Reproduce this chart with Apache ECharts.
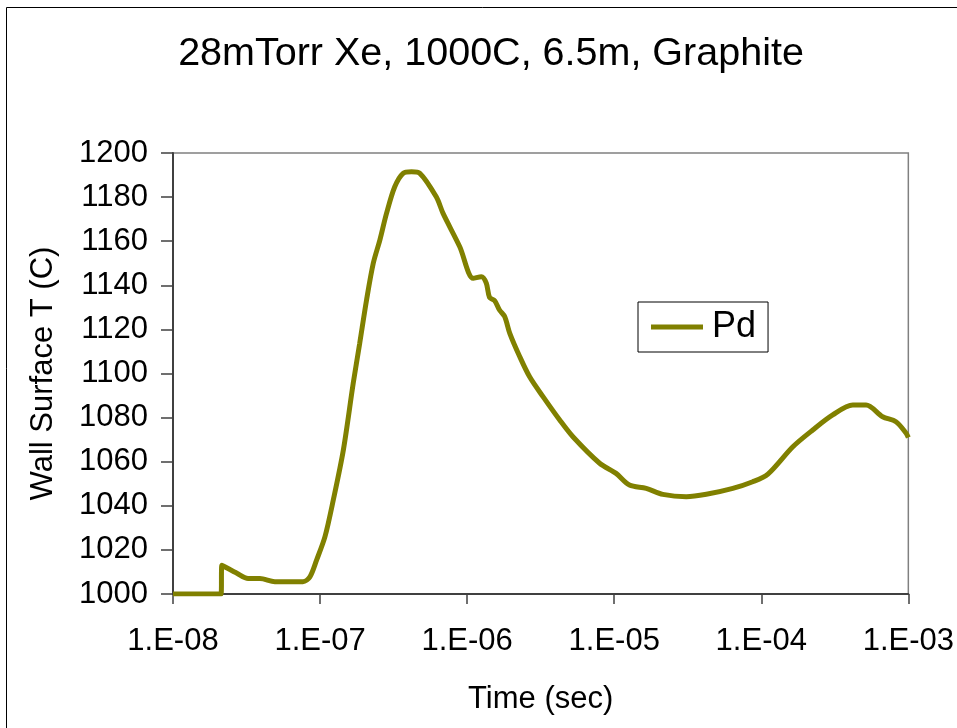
<!DOCTYPE html>
<html>
<head>
<meta charset="utf-8">
<script src="https://cdn.jsdelivr.net/npm/echarts@6/dist/echarts.min.js"></script>
<style>
html,body{margin:0;padding:0;background:#fff;}
#c{width:957px;height:728px;}
</style>
</head>
<body>
<div id="c"></div>
<script>
const titleText = '28mTorr Xe, 1000C, 6.5m, Graphite';
const xAxisName = 'Time (sec)';
const yAxisName = 'Wall Surface T (C)';
const seriesName = 'Pd';
const timeSec = [1e-8, 2.12e-8, 2.15e-8, 2.72e-8, 3.24e-8, 3.90e-8, 4.93e-8, 7.64e-8, 8.53e-8, 9.47e-8,
  1.08e-7, 1.23e-7, 1.44e-7, 1.68e-7, 1.86e-7, 2.07e-7, 2.30e-7, 2.55e-7, 2.83e-7, 3.22e-7,
  3.67e-7, 4.19e-7, 4.77e-7, 6.18e-7, 6.86e-7, 8.91e-7, 1.10e-6, 1.25e-6, 1.35e-6, 1.42e-6,
  1.54e-6, 1.66e-6, 1.80e-6, 1.95e-6, 2.28e-6, 2.66e-6, 3.28e-6, 4.26e-6, 5.24e-6, 7.96e-6,
  1.03e-5, 1.27e-5, 1.65e-5, 2.14e-5, 3.09e-5, 4.23e-5, 6.40e-5, 8.75e-5, 1.11e-4, 1.64e-4,
  2.24e-4, 3.06e-4, 4.19e-4, 5.16e-4, 6.69e-4, 8.24e-4, 9.64e-4, 1e-3];
const wallT = [1000, 1000, 1013, 1009.4, 1007, 1007, 1005.6, 1005.6, 1007.8, 1015.4,
  1026, 1042.6, 1065.3, 1095.5, 1113.7, 1133.3, 1150, 1160.5, 1172.6, 1184.7,
  1190.8, 1191.5, 1190.8, 1180, 1172.6, 1157.5, 1143.2, 1143.9, 1141, 1134.5,
  1133, 1128.8, 1125.8, 1118.2, 1107.6, 1098.5, 1089.5, 1078.9, 1071.3, 1059.3,
  1054.7, 1049.4, 1047.9, 1045.2, 1044.1, 1045.2, 1047.9, 1050.9, 1054.4, 1066.8,
  1074.4, 1081.2, 1085.7, 1085.7, 1080.4, 1078.1, 1073, 1071];
const yTicks = {min: 1000, max: 1200, step: 20};
const xRange = {min: 1e-8, max: 1e-3};

const data = timeSec.map((t, i) => [t, wallT[i]]);
const chart = echarts.init(document.getElementById('c'), null, {renderer: 'canvas'});
const FONT = 'Liberation Sans, Arial, sans-serif';
chart.setOption({
  animation: false,
  backgroundColor: '#fff',
  title: {
    text: titleText, left: 486, top: 29, textAlign: 'center',
    textStyle: {fontFamily: FONT, fontSize: 39.5, fontWeight: 'normal', color: '#000'}
  },
  grid: {left: 173, right: 48, top: 153, bottom: 134, show: true, borderColor: '#808080', borderWidth: 1.5, backgroundColor: 'transparent'},
  legend: {
    left: 638, top: 302,
    padding: [7, 12, 7, 13],
    borderColor: '#000', borderWidth: 1,
    itemWidth: 52, itemHeight: 5,
    textStyle: {fontFamily: FONT, fontSize: 36, lineHeight: 36, color: '#000', padding: [0, 0, 0, 4]},
    data: [{name: seriesName, icon: 'path://M0,0 L52,0 L52,5 L0,5 Z'}]
  },
  xAxis: {
    type: 'log', logBase: 10, min: xRange.min, max: xRange.max,
    name: xAxisName, nameLocation: 'middle', nameGap: 90,
    nameTextStyle: {fontFamily: FONT, fontSize: 31, color: '#000'},
    axisLine: {show: true, lineStyle: {color: '#404040', width: 2}},
    axisTick: {show: true, inside: false, length: 10, lineStyle: {color: '#404040', width: 1.5}},
    minorTick: {show: false},
    splitLine: {show: false},
    axisLabel: {
      fontFamily: FONT, fontSize: 31, color: '#000', margin: 32,
      formatter: v => {
        const e = Math.round(Math.log10(v));
        const s = Math.abs(e) < 10 ? '0' + Math.abs(e) : '' + Math.abs(e);
        return '1.E' + (e < 0 ? '-' : '+') + s;
      }
    }
  },
  yAxis: {
    type: 'value', min: yTicks.min, max: yTicks.max, interval: yTicks.step,
    name: yAxisName, nameLocation: 'middle', nameGap: 114,
    nameTextStyle: {fontFamily: FONT, fontSize: 31, color: '#000'},
    axisLine: {show: true, lineStyle: {color: '#404040', width: 2}},
    axisTick: {show: true, inside: false, length: 12, lineStyle: {color: '#404040', width: 1.5}},
    splitLine: {show: false},
    axisLabel: {fontFamily: FONT, fontSize: 31, color: '#000', margin: 25, formatter: v => String(v)}
  },
  graphic: [{
    type: 'rect', shape: {x: 6.5, y: 7.5, width: 1000, height: 1000},
    style: {fill: 'none', stroke: '#000', lineWidth: 1}, silent: true
  }],
  series: [{
    name: seriesName, type: 'line', data: data, showSymbol: false, smooth: 0.3,
    lineStyle: {color: '#808000', width: 5}, itemStyle: {color: '#808000'}
  }]
});
</script>
</body>
</html>
